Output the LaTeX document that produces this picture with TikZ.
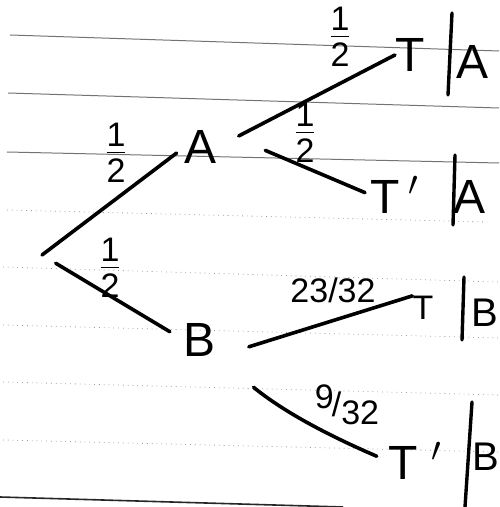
\documentclass[tikz,border=0pt]{standalone}
\usepackage{fontspec}
\setmainfont{Liberation Sans}
\usetikzlibrary{positioning}
\tikzstyle{branch} = [line width=1.8pt, line cap=round]
\tikzstyle{condbar} = [line width=1.7pt, line cap=round]
\tikzstyle{event} = [inner sep=0pt, font=\fontsize{24}{28}\selectfont]
\tikzstyle{prob} = [inner sep=0pt, font=\fontsize{17}{20}\selectfont]
\tikzstyle{ruled} = [black!55, line width=0.5pt]
\tikzstyle{dotruled} = [black!40, line width=0.4pt, dotted]
\newcommand{\halfprob}{$\frac{\mbox{1}\rule[-2.5pt]{0pt}{2.5pt}}{\rule{0pt}{14.5pt}\mbox{2}}$}

\begin{document}
\begin{tikzpicture}[x=0.5pt, y=-0.5pt]
    \useasboundingbox (0,0) rectangle (499,507);

    % Ruled lines
    \draw[ruled] (10,35) -- (499,51);
    \draw[ruled] (8,93) -- (499,108);
    \draw[ruled] (7,152) -- (499,163);
    \draw[dotruled] (7,210) -- (487,222);
    \draw[dotruled] (3,267) -- (499,282);
    \draw[dotruled] (3,325) -- (499,338);
    \draw[dotruled] (3,382) -- (499,395);
    \draw[dotruled] (3,440) -- (499,452);
    \draw[ruled, black!85, line width=0.8pt] (0,497) -- (343,507);

    % Events
    \coordinate (Root) at (42,255);
    \node[event] (A) at (201,147) {A};
    \node[event] (B) at (200,340) {B};
    \node[event] (TgivenA) at (410,55) {T};
    \node[event] (NotTgivenA) at (395,195) {T$\,'$};
    \node[event, font=\fontsize{17}{20}\selectfont] (TgivenB) at (423,308) {T};
    \node[event] (NotTgivenB) at (415,461) {T$\;'$};

    % Conditions
    \node[event] (CondA1) at (472,62) {A};
    \node[event] (CondA2) at (469,197) {A};
    \node[event, font=\fontsize{20}{24}\selectfont] (CondB1) at (485,313) {B};
    \node[event, font=\fontsize{20}{24}\selectfont] (CondB2) at (486,457) {B};
    \draw[condbar] (452,13) -- (448,95);
    \draw[condbar] (455,155) -- (453,225);
    \draw[condbar] (464,277) -- (462,340);
    \draw[condbar] (472,402) -- (465,507);

    % Branches
    \draw[branch, shorten >=5pt] (Root) -- (A.west);
    \draw[branch, shorten <=8pt, shorten >=8pt] (Root) -- (B.west);
    \draw[branch, shorten <=12pt] (A.east) -- (TgivenA.west);
    \draw[branch, shorten <=26pt, shorten >=3pt] (A.north east) -- (NotTgivenA.west);
    \draw[branch, shorten <=17pt] (B.south east) -- (TgivenB.north west);
    \draw[branch, shorten <=24pt, shorten >=6pt] (B.south east) to[bend right=8] (NotTgivenB.west);

    % Probabilities
    \node[prob] (ProbA) at (116,153) {\halfprob};
    \node[prob] (ProbB) at (110,268) {\halfprob};
    \node[prob] (ProbTA) at (340,37) {\halfprob};
    \node[prob] (ProbNotTA) at (305,133) {\halfprob};
    \node[prob] (ProbTB) at (333,290) {23/32};
    \node[prob] (ProbNotTB) at (347,405) {\raisebox{4pt}{9}\kern-1pt/\raisebox{-4pt}{32}};

\end{tikzpicture}
\end{document}
